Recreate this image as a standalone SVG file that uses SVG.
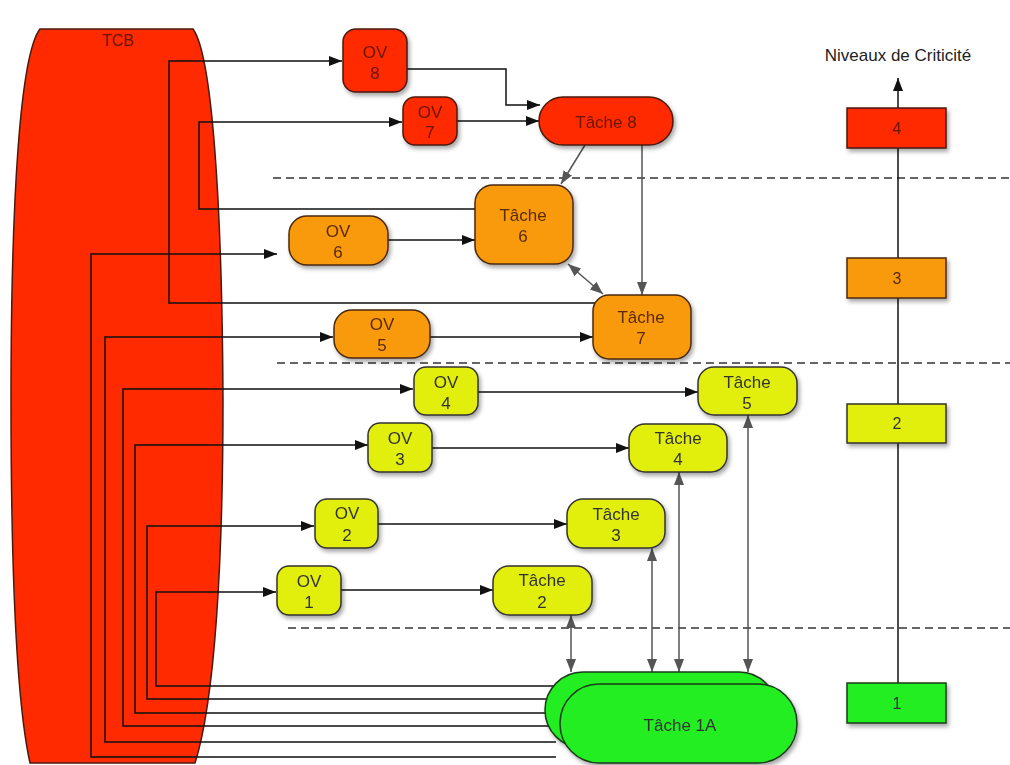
<svg xmlns="http://www.w3.org/2000/svg" width="1010" height="765" viewBox="0 0 1010 765">
<defs>
<style>
.t{font-family:"Liberation Sans",Arial,sans-serif;text-anchor:middle}
.n{font-size:17px}
.red{fill:#ff2a00;stroke:#4a1a10;stroke-width:1.5}
.org{fill:#f99a0a;stroke:#4a2a10;stroke-width:1.5}
.yel{fill:#e2ef0a;stroke:#333;stroke-width:1.5}
.grn{fill:#22ee22;stroke:#1a3a1a;stroke-width:1.5}
.tr{fill:#6a1505}
.to{fill:#5a2a05}
.ty{fill:#333}
.bl{fill:none;stroke:#111;stroke-width:1.5;marker-end:url(#ab)}
.gr{fill:none;stroke:#555;stroke-width:1.5;marker-end:url(#ag)}
.gd{fill:none;stroke:#555;stroke-width:1.5;marker-end:url(#ag);marker-start:url(#ag)}
.dash{stroke:#333;stroke-width:1.5;stroke-dasharray:8,5}
.sh{filter:url(#ds)}
.lv{font-size:16px}
</style>
<marker id="ab" markerUnits="userSpaceOnUse" markerWidth="14" markerHeight="10" refX="13" refY="5" orient="auto-start-reverse"><path d="M0,0 L13,5 L0,10 z" fill="#111"/></marker>
<marker id="ag" markerUnits="userSpaceOnUse" markerWidth="14" markerHeight="10" refX="13" refY="5" orient="auto-start-reverse"><path d="M0,0 L13,5 L0,10 z" fill="#555"/></marker>
<filter id="ds" x="-20%" y="-20%" width="150%" height="160%"><feDropShadow dx="2" dy="3" stdDeviation="2" flood-color="#000" flood-opacity="0.35"/></filter>
</defs>
<rect width="1010" height="765" fill="#fff"/>

<g id="tcb">
<path class="red" d="M40,29 L193,29 C212,55 222,200 223,400 C223,560 215,700 195,763 L30,763 C16,700 11,560 11,400 C11,200 20,55 40,29 Z"/>
<text class="t tr" x="118" y="46" font-size="16">TCB</text>
</g>

<g id="dashes">
<line class="dash" x1="273" y1="178" x2="1010" y2="178"/>
<line class="dash" x1="277" y1="363" x2="1010" y2="363"/>
<line class="dash" x1="288" y1="628" x2="1010" y2="628"/>
</g>

<g id="connectors">
<path class="bl" d="M597,303 H169 V61 H342"/>
<path class="bl" d="M475,209 H199 V122 H402"/>
<path class="bl" d="M556,757 H91 V254 H277"/>
<path class="bl" d="M556,742 H105 V337 H333"/>
<path class="bl" d="M552,726 H123 V389 H413"/>
<path class="bl" d="M550,713 H135 V445 H368"/>
<path class="bl" d="M552,699 H147 V526 H314"/>
<path class="bl" d="M556,686 H156 V592 H276"/>
<path class="bl" d="M407,69 H506 V105 H540"/>
<path class="bl" d="M457,121 H539"/>
<path class="bl" d="M388,240 H475"/>
<path class="bl" d="M430,337 H593"/>
<path class="bl" d="M478,392 H698"/>
<path class="bl" d="M432,448 H629"/>
<path class="bl" d="M378,524 H567"/>
<path class="bl" d="M341,590 H493"/>
<path class="gr" d="M585,145 L561,184"/>
<path class="gr" d="M642,145 V295"/>
<path class="gd" d="M568,264 L603,294"/>
<path class="gd" d="M571,615 V672"/>
<path class="gd" d="M652,548 V672"/>
<path class="gd" d="M679,472 V672"/>
<path class="gd" d="M748,415 V672"/>
<path class="bl" d="M898,683 V78"/>
</g>

<g id="ov8" class="sh"><rect class="red" x="343" y="29" width="64" height="63" rx="13"/><text class="t n tr" x="375" y="58">OV</text><text class="t n tr" x="375" y="79">8</text></g>
<g id="ov7" class="sh"><rect class="red" x="403" y="97" width="54" height="48" rx="12"/><text class="t n tr" x="430" y="118">OV</text><text class="t n tr" x="430" y="138">7</text></g>
<g id="tache8" class="sh"><rect class="red" x="539" y="97" width="134" height="48" rx="24"/><text class="t n tr" x="606" y="128">Tâche 8</text></g>
<g id="tache6" class="sh"><rect class="org" x="475" y="185" width="98" height="79" rx="18"/><text class="t n to" x="523" y="221">Tâche</text><text class="t n to" x="523" y="242">6</text></g>
<g id="tache7" class="sh"><rect class="org" x="593" y="295" width="98" height="64" rx="16"/><text class="t n to" x="641" y="323">Tâche</text><text class="t n to" x="641" y="344">7</text></g>
<g id="ov6" class="sh"><rect class="org" x="289" y="216" width="99" height="49" rx="18"/><text class="t n to" x="338" y="237">OV</text><text class="t n to" x="338" y="258">6</text></g>
<g id="ov5" class="sh"><rect class="org" x="334" y="310" width="96" height="48" rx="18"/><text class="t n to" x="382" y="330">OV</text><text class="t n to" x="382" y="351">5</text></g>
<g id="ov4" class="sh"><rect class="yel" x="414" y="367" width="64" height="48" rx="12"/><text class="t n ty" x="446" y="388">OV</text><text class="t n ty" x="446" y="409">4</text></g>
<g id="tache5" class="sh"><rect class="yel" x="698" y="367" width="99" height="48" rx="16"/><text class="t n ty" x="747" y="388">Tâche</text><text class="t n ty" x="747" y="409">5</text></g>
<g id="ov3" class="sh"><rect class="yel" x="368" y="423" width="64" height="49" rx="12"/><text class="t n ty" x="400" y="444">OV</text><text class="t n ty" x="400" y="465">3</text></g>
<g id="tache4" class="sh"><rect class="yel" x="629" y="424" width="98" height="48" rx="16"/><text class="t n ty" x="678" y="444">Tâche</text><text class="t n ty" x="678" y="465">4</text></g>
<g id="ov2" class="sh"><rect class="yel" x="315" y="499" width="63" height="49" rx="12"/><text class="t n ty" x="347" y="519">OV</text><text class="t n ty" x="347" y="541">2</text></g>
<g id="tache3" class="sh"><rect class="yel" x="567" y="499" width="98" height="49" rx="16"/><text class="t n ty" x="616" y="520">Tâche</text><text class="t n ty" x="616" y="541">3</text></g>
<g id="ov1" class="sh"><rect class="yel" x="277" y="566" width="64" height="49" rx="12"/><text class="t n ty" x="309" y="587">OV</text><text class="t n ty" x="309" y="608">1</text></g>
<g id="tache2" class="sh"><rect class="yel" x="493" y="566" width="99" height="49" rx="16"/><text class="t n ty" x="542" y="586">Tâche</text><text class="t n ty" x="542" y="608">2</text></g>

<g id="tache1a" class="sh">
<rect class="grn" x="545" y="672" width="232" height="76" rx="38"/>
<rect class="grn" x="560" y="684" width="237" height="79" rx="39"/>
<text class="t n ty" x="680" y="731">Tâche 1A</text>
</g>

<g id="scale">
<text class="t" x="898" y="61" font-size="17" fill="#222">Niveaux de Criticité</text>
<g id="niv4" class="sh"><rect class="red" x="847" y="108" width="99" height="40"/><text class="t lv tr" x="897" y="134">4</text></g>
<g id="niv3" class="sh"><rect class="org" x="847" y="258" width="99" height="40"/><text class="t lv to" x="897" y="284">3</text></g>
<g id="niv2" class="sh"><rect class="yel" x="847" y="404" width="99" height="39"/><text class="t lv ty" x="897" y="429">2</text></g>
<g id="niv1" class="sh"><rect class="grn" x="847" y="683" width="99" height="40"/><text class="t lv ty" x="897" y="709">1</text></g>
</g>
</svg>
